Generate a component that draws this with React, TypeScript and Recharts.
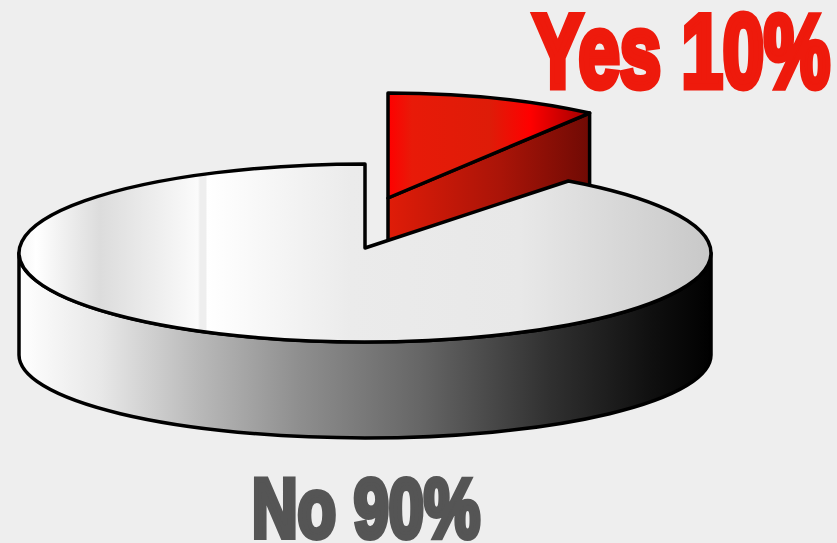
import { Pie, PieChart } from "recharts";

const categories = ["Yes", "No"];
const shares = [10, 90];
const tableData = categories.map((name, i) => ({ name, value: shares[i] }));

const W = 837;
const H = 543;
const CX = 365;
const CY = 253;
const RX = 346;
const RY = 89;
// the wall sinks further at the rim than at the front, so its lower edge is flatter
const WALL_DROP = 102;
const WALL_RY = 83;
// tip of the main body sits slightly above the ellipse centre
const TIP_DY = -5;
// the exploded slice is lifted and drawn a little taller than the main body
const YES_DX = 23;
const YES_DY = -55;
const YES_RX = 343;
const YES_RY = 105;
const YES_DEPTH = 95;

const rad = (a: number) => (a * Math.PI) / 180;

function GradStops({ id, stops }: { id: string; stops: [number, string][] }) {
  return (
    <linearGradient id={id} gradientUnits="userSpaceOnUse" x1={0} y1={0} x2={W} y2={0}>
      {stops.map(([x, c]) => (
        <stop key={x} offset={x / W} stopColor={c} />
      ))}
    </linearGradient>
  );
}

function PieSlice3D(props: any) {
  const { cx, cy, startAngle, endAngle, outerRadius, name } = props;
  const isYes = name === "Yes";
  const ox = cx + (isYes ? YES_DX : 0);
  const oy = cy + (isYes ? YES_DY : 0);
  const rx = isYes ? YES_RX : outerRadius;
  const ry = isYes ? YES_RY : RY;
  const pt = (a: number) => [ox + rx * Math.cos(rad(a)), oy - ry * Math.sin(rad(a))];
  const [sx, sy] = pt(startAngle);
  const [ex, ey] = pt(endAngle);
  const large = Math.abs(endAngle - startAngle) > 180 ? 1 : 0;

  if (isYes) {
    const top = `M${ox},${oy} L${sx},${sy} A${rx},${ry} 0 ${large} 1 ${ex},${ey} Z`;
    const wall = `M${ox},${oy} L${ex},${ey} L${ex},${ey + YES_DEPTH} L${ox},${oy + YES_DEPTH} Z`;
    return (
      <g stroke="#000" strokeWidth={3.5} strokeLinejoin="round">
        <path d={wall} fill="url(#yesWall)" />
        <path d={top} fill="url(#yesTop)" />
      </g>
    );
  }

  const ty = oy + TIP_DY;
  const top = `M${ox},${ty} L${sx},${sy} A${rx},${ry} 0 ${large} 1 ${ex},${ey} Z`;
  const [lx, ly] = pt(180);
  const [rx0, ry0] = pt(0);
  const side = `M${lx},${ly} A${rx},${ry} 0 0 0 ${rx0},${ry0} L${rx0},${ry0 + WALL_DROP} A${rx},${WALL_RY} 0 0 1 ${lx},${ly + WALL_DROP} Z`;
  return (
    <g stroke="#000" strokeWidth={3.5} strokeLinejoin="round">
      <path d={side} fill="url(#noWall)" />
      <path d={top} fill="url(#noTop)" />
    </g>
  );
}

function SliceLabel(props: any) {
  const { name, value } = props;
  const isYes = name === "Yes";
  return (
    <text
      x={isYes ? 533 : 252}
      y={isYes ? 87 : 537}
      textLength={isYes ? 297 : 228}
      lengthAdjust="spacingAndGlyphs"
      fontFamily="'Liberation Sans Narrow', 'Liberation Sans', sans-serif"
      fontWeight={700}
      fontSize={isYes ? 103 : 84}
      fill={isYes ? "#ee1a0c" : "#555555"}
      stroke={isYes ? "#ee1a0c" : "#555555"}
      strokeWidth={isYes ? 7 : 6}
    >
      {`${name} ${value}%`}
    </text>
  );
}

export default function App() {
  return (
    <div style={{ position: "absolute", left: 0, top: 0, width: W, height: H, background: "#eeeeee", overflow: "hidden" }}>
      <PieChart width={W} height={H} margin={{ top: 0, right: 0, bottom: 0, left: 0 }}>
        <defs>
          <GradStops
            id="noTop"
            stops={[
              [18, "#f4f4f4"],
              [36, "#ffffff"],
              [100, "#dcdcdc"],
              [198, "#fbfbfb"],
              [200, "#eeeeee"],
              [206, "#eeeeee"],
              [207, "#ffffff"],
              [350, "#ebebeb"],
              [520, "#e8e8e8"],
              [712, "#c8c8c8"],
            ]}
          />
          <GradStops
            id="noWall"
            stops={[
              [18, "#ffffff"],
              [100, "#e8e8e8"],
              [200, "#b8b8b8"],
              [300, "#8e8e8e"],
              [420, "#666666"],
              [550, "#303030"],
              [650, "#101010"],
              [712, "#000000"],
            ]}
          />
          <GradStops
            id="yesTop"
            stops={[
              [388, "#ff0000"],
              [412, "#e81a08"],
              [490, "#de1c08"],
              [530, "#ff0000"],
              [592, "#990000"],
            ]}
          />
          <GradStops
            id="yesWall"
            stops={[
              [388, "#e01c08"],
              [500, "#aa1408"],
              [592, "#6e0a04"],
            ]}
          />
        </defs>
        <Pie
          data={tableData}
          dataKey="value"
          nameKey="name"
          cx={CX}
          cy={CY}
          innerRadius={0}
          outerRadius={RX}
          startAngle={90}
          endAngle={-270}
          paddingAngle={0}
          stroke="none"
          shape={PieSlice3D}
          label={SliceLabel}
          labelLine={false}
          isAnimationActive={false}
        />
      </PieChart>
    </div>
  );
}
